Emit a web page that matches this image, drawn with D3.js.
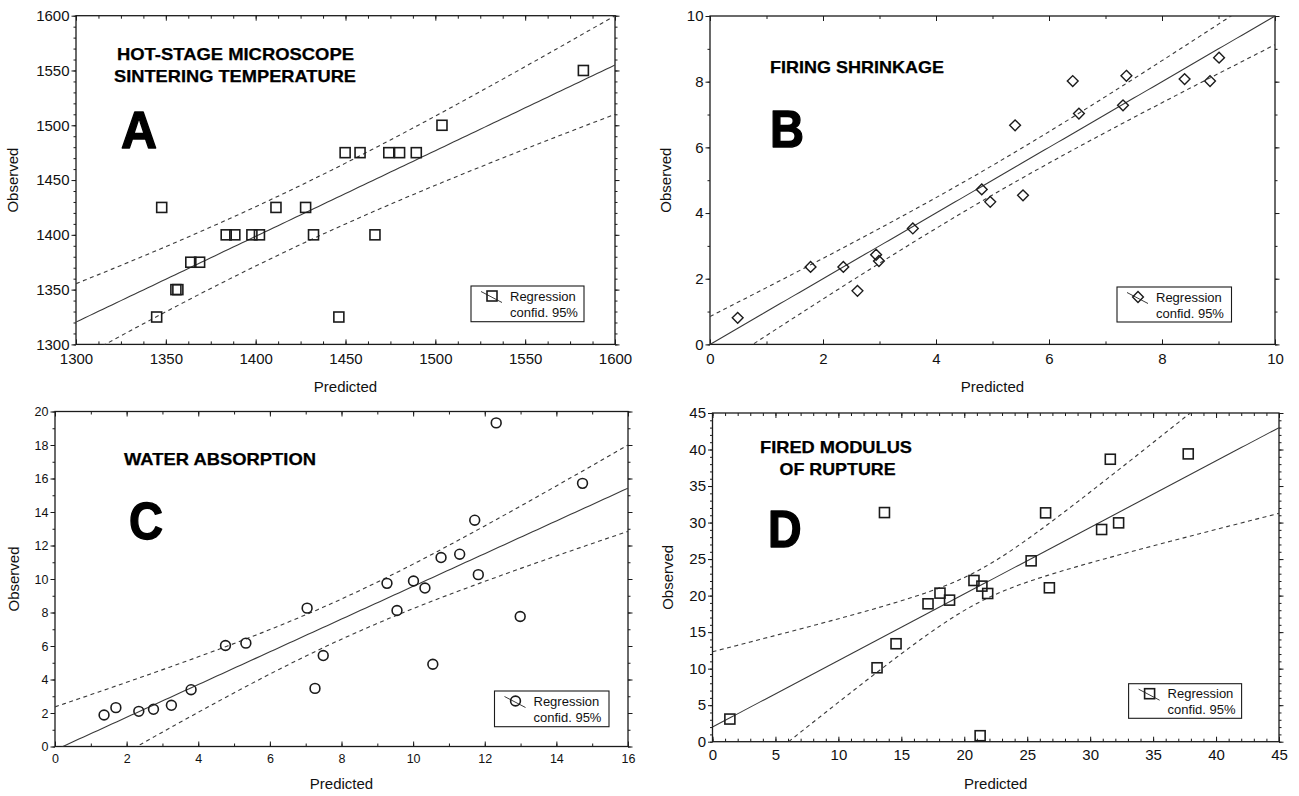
<!DOCTYPE html>
<html>
<head>
<meta charset="utf-8">
<script src="https://cdn.jsdelivr.net/npm/d3@7"></script>
<style>
  body { margin: 0; background: #fff; }
  svg { display: block; }
</style>
</head>
<body>
<svg id="chart" width="1299" height="796"></svg>
<script>
// ---------- Data: predicted vs observed, four properties ----------

// A: hot-stage microscope sintering temperature
const sinterPred = [1582.4, 1503.7, 1449.8, 1458.1, 1474.1, 1480.1, 1489.4, 1347.7, 1411.3, 1427.8,
                    1383.6, 1388.4, 1397.9, 1402.1, 1432.2, 1466.4, 1363.9, 1368.8, 1355.6, 1356.7,
                    1344.9, 1446.3];
const sinterObs  = [1550, 1500, 1475, 1475, 1475, 1475, 1475, 1425, 1425, 1425,
                    1400, 1400, 1400, 1400, 1400, 1400, 1375, 1375, 1350, 1350,
                    1325, 1325];
// regression of observed on predicted: [intercept, slope, band centre, band half-width at centre, band spread]
const sinterFit  = [303.8, 0.782, 1415, 26.9, 0.195];
const sinterTicks = [1300, 1350, 1400, 1450, 1500, 1550, 1600];

// B: firing shrinkage
const shrinkPred = [0.49, 1.78, 2.36, 2.61, 2.94, 2.99, 3.59, 4.81, 4.96, 5.40, 5.54, 6.42, 6.53, 7.31, 7.37, 8.40, 8.85, 9.01];
const shrinkObs  = [0.81, 2.36, 2.36, 1.63, 2.73, 2.54, 3.53, 4.72, 4.34, 6.67, 4.54, 8.02, 7.03, 7.28, 8.18, 8.08, 8.02, 8.73];
const shrinkFit  = [0, 1.0, 4.9, 0.45, 0.147];
const shrinkTicks = [0, 2, 4, 6, 8, 10];

// C: water absorption
const waterPred = [1.37, 1.70, 2.34, 2.75, 3.25, 3.80, 4.76, 5.33, 7.04, 7.26, 7.49, 9.27,
                   9.55, 10.01, 10.33, 10.55, 10.78, 11.30, 11.72, 11.82, 12.32, 12.99, 14.73];
const waterObs  = [1.88, 2.32, 2.10, 2.22, 2.46, 3.39, 6.03, 6.17, 8.26, 3.47, 5.43, 9.74,
                   8.12, 9.88, 9.46, 4.91, 11.28, 11.48, 13.51, 10.26, 19.32, 7.76, 15.71];
const waterFit  = [-0.21, 0.977, 8, 1.2, 0.285];
const waterXTicks = [0, 2, 4, 6, 8, 10, 12, 14, 16];
const waterYTicks = [0, 2, 4, 6, 8, 10, 12, 14, 16, 18, 20];

// D: fired modulus of rupture
const morPred = [1.38, 13.07, 13.66, 14.58, 17.12, 18.07, 18.83, 20.77, 21.40, 21.86, 21.26,
                 25.31, 26.46, 26.76, 30.91, 31.60, 32.26, 37.79];
const morObs  = [3.10, 10.12, 31.37, 13.41, 18.88, 20.34, 19.38, 22.07, 21.30, 20.29, 0.82,
                 24.76, 31.33, 21.07, 29.05, 38.67, 29.96, 39.40];
const morFit  = [2.0, 0.911, 21, 2.2, 0.48];
const morTicks = [0, 5, 10, 15, 20, 25, 30, 35, 40, 45];

// Text
const sinterTitle = ["HOT-STAGE MICROSCOPE", "SINTERING TEMPERATURE"];
const shrinkTitle = ["FIRING SHRINKAGE"];
const waterTitle  = ["WATER ABSORPTION"];
const morTitle    = ["FIRED MODULUS", "OF RUPTURE"];
const legendLines = ["Regression", "confid. 95%"];
const xAxisTitle = "Predicted";
const yAxisTitle = "Observed";

// ---------- Drawing ----------
const svg = d3.select("#chart");
const FONT = "Arial, 'Liberation Sans', Helvetica, sans-serif";
const NARROW = "'Liberation Sans Narrow', 'Arial Narrow', 'Liberation Sans', Arial, sans-serif";
const INK = "#1b1b1b";
const LINE = "#3a3a3a";

function steps(lo, hi, step) {
  const out = [];
  const n = Math.round((hi - lo) / step);
  for (let i = 0; i <= n; i++) out.push(lo + i * step);
  return out;
}

function marker(g, type, x, y) {
  if (type === "circle") {
    g.append("circle").attr("cx", x).attr("cy", y).attr("r", 4.9)
      .attr("fill", "none").attr("stroke", INK).attr("stroke-width", 1.6);
  } else if (type === "diamond") {
    const s = 5.4;
    g.append("path").attr("d", `M${x},${y - s}L${x + s},${y}L${x},${y + s}L${x - s},${y}Z`)
      .attr("fill", "none").attr("stroke", INK).attr("stroke-width", 1.4);
  } else {
    const s = 5;
    g.append("rect").attr("x", x - s).attr("y", y - s).attr("width", 2 * s).attr("height", 2 * s)
      .attr("fill", "none").attr("stroke", INK).attr("stroke-width", 1.6);
  }
}

function styleAxis(sel) {
  sel.select(".domain").remove();
  sel.selectAll(".tick line").attr("stroke", INK).attr("stroke-width", 1);
  sel.selectAll(".tick text").attr("fill", "#111");
}

function drawPanel(p) {
  const [left, right, top, bottom] = p.box;
  const x = d3.scaleLinear().domain(p.xDomain).range([left, right]);
  const y = d3.scaleLinear().domain(p.yDomain).range([bottom, top]);
  const g = svg.append("g").attr("font-family", FONT);

  const clipId = "clip" + p.id;
  svg.append("clipPath").attr("id", clipId)
    .append("rect").attr("x", left).attr("y", top).attr("width", right - left).attr("height", bottom - top);

  // minor ticks
  const xMinor = steps(p.xDomain[0], p.xDomain[1], p.xMinorStep);
  const yMinor = steps(p.yDomain[0], p.yDomain[1], p.yMinorStep);
  g.append("g").attr("transform", `translate(0,${bottom})`)
    .call(d3.axisBottom(x).tickValues(xMinor).tickSize(-3).tickFormat("")).call(styleAxis);
  g.append("g").attr("transform", `translate(0,${top})`)
    .call(d3.axisTop(x).tickValues(xMinor).tickSize(-3).tickFormat("")).call(styleAxis);
  g.append("g").attr("transform", `translate(${left},0)`)
    .call(d3.axisLeft(y).tickValues(yMinor).tickSize(2.5).tickFormat("")).call(styleAxis);
  g.append("g").attr("transform", `translate(${right},0)`)
    .call(d3.axisRight(y).tickValues(yMinor).tickSize(2.5).tickFormat("")).call(styleAxis);

  // major ticks + labels
  g.append("g").attr("transform", `translate(0,${bottom})`)
    .call(d3.axisBottom(x).tickValues(p.xTicks).tickSize(-5).tickPadding(p.xPad).tickFormat(d3.format("d")))
    .call(styleAxis)
    .call(s => s.selectAll("text").attr("font-size", p.tickFont));
  g.append("g").attr("transform", `translate(0,${top})`)
    .call(d3.axisTop(x).tickValues(p.xTicks).tickSize(-5).tickFormat("")).call(styleAxis);
  g.append("g").attr("transform", `translate(${left},0)`)
    .call(d3.axisLeft(y).tickValues(p.yTicks).tickSize(4.5).tickPadding(2).tickFormat(d3.format("d")))
    .call(styleAxis)
    .call(s => s.selectAll("text").attr("font-size", p.tickFont));
  g.append("g").attr("transform", `translate(${right},0)`)
    .call(d3.axisRight(y).tickValues(p.yTicks).tickSize(4.5).tickFormat("")).call(styleAxis);

  // frame
  g.append("rect").attr("x", left).attr("y", top).attr("width", right - left).attr("height", bottom - top)
    .attr("fill", "none").attr("stroke", INK).attr("stroke-width", 1.3);

  // regression line and 95% confidence band
  const [b0, b1, xc, hMin, spread] = p.fit;
  const fitY = v => b0 + b1 * v;
  const half = v => Math.sqrt(hMin * hMin + spread * spread * (v - xc) * (v - xc));
  const xs = steps(p.xDomain[0], p.xDomain[1], (p.xDomain[1] - p.xDomain[0]) / 120);
  const ln = d3.line().x(d => x(d[0])).y(d => y(d[1]));
  const lines = g.append("g").attr("clip-path", `url(#${clipId})`).attr("fill", "none");
  lines.append("path").attr("d", ln(xs.map(v => [v, fitY(v)])))
    .attr("stroke", LINE).attr("stroke-width", 1.1);
  [1, -1].forEach(sgn => {
    lines.append("path").attr("d", ln(xs.map(v => [v, fitY(v) + sgn * half(v)])))
      .attr("stroke", LINE).attr("stroke-width", 1.1).attr("stroke-dasharray", "4,3.5");
  });

  // observations
  const pts = g.append("g");
  p.pred.forEach((v, i) => marker(pts, p.marker, x(v), y(p.obs[i])));

  // panel title and letter
  p.title.forEach((t, i) => {
    const L = p.titleLayout[i];
    g.append("text").text(t)
      .attr("x", L[0]).attr("y", L[2])
      .attr("textLength", L[1] - L[0]).attr("lengthAdjust", "spacingAndGlyphs")
      .attr("font-family", NARROW).attr("font-weight", "bold").attr("font-size", 17)
      .attr("fill", "#000").attr("stroke", "#000").attr("stroke-width", 0.25);
  });
  const Lt = p.letterLayout;
  g.append("text").text(p.id)
    .attr("x", Lt[0]).attr("y", Lt[2])
    .attr("textLength", Lt[1] - Lt[0]).attr("lengthAdjust", "spacingAndGlyphs")
    .attr("font-family", NARROW).attr("font-weight", "bold").attr("font-size", Lt[3])
    .attr("fill", "#000").attr("stroke", "#000").attr("stroke-width", 1.4).attr("stroke-linejoin", "round");

  // legend
  const [lx0, lx1, ly0, ly1] = p.legend;
  const lg = g.append("g");
  lg.append("rect").attr("x", lx0).attr("y", ly0).attr("width", lx1 - lx0).attr("height", ly1 - ly0)
    .attr("fill", "#fff").attr("stroke", INK).attr("stroke-width", 1.1);
  lg.append("line").attr("x1", lx0 + 10).attr("y1", ly0 + 5.5).attr("x2", lx0 + 31).attr("y2", ly0 + 16.5)
    .attr("stroke", LINE).attr("stroke-width", 1);
  marker(lg, p.marker, lx0 + 21, ly0 + 10);
  legendLines.forEach((t, i) => {
    lg.append("text").text(t).attr("x", lx0 + 39).attr("y", ly0 + 14.5 + i * 16)
      .attr("font-size", 13).attr("fill", "#111");
  });

  // axis titles
  g.append("text").text(xAxisTitle)
    .attr("x", (left + right) / 2).attr("y", p.xTitleY)
    .attr("text-anchor", "middle").attr("font-size", 15).attr("fill", "#111");
  g.append("text").text(yAxisTitle)
    .attr("transform", `translate(${p.yTitleX},${(top + bottom) / 2}) rotate(-90)`)
    .attr("text-anchor", "middle").attr("font-size", 15).attr("fill", "#111");
}

const panels = [
  { id: "A", box: [76, 615, 15.7, 344.4], xDomain: [1300, 1600], yDomain: [1300, 1600],
    xTicks: sinterTicks, yTicks: sinterTicks, xMinorStep: 12.5, yMinorStep: 10,
    pred: sinterPred, obs: sinterObs, fit: sinterFit, marker: "square", tickFont: 15, xPad: 9,
    title: sinterTitle, titleLayout: [[117, 354, 60], [114, 356, 81.7]],
    letterLayout: [121, 157, 148.4, 52],
    legend: [471, 584, 286, 321.7], xTitleY: 392, yTitleX: 18 },
  { id: "B", box: [710, 1275, 16, 344.4], xDomain: [0, 10], yDomain: [0, 10],
    xTicks: shrinkTicks, yTicks: shrinkTicks, xMinorStep: 1, yMinorStep: 1,
    pred: shrinkPred, obs: shrinkObs, fit: shrinkFit, marker: "diamond", tickFont: 15, xPad: 9,
    title: shrinkTitle, titleLayout: [[770, 944, 73.3]],
    letterLayout: [770, 804, 147.3, 52],
    legend: [1117, 1231.5, 287, 322], xTitleY: 392, yTitleX: 671 },
  { id: "C", box: [55, 628, 411.5, 746.5], xDomain: [0, 16], yDomain: [0, 20],
    xTicks: waterXTicks, yTicks: waterYTicks, xMinorStep: 1, yMinorStep: 1,
    pred: waterPred, obs: waterObs, fit: waterFit, marker: "circle", tickFont: 12.5, xPad: 8,
    title: waterTitle, titleLayout: [[124, 316, 465.3]],
    letterLayout: [129, 163, 538.5, 52],
    legend: [494.5, 609, 691, 726.7], xTitleY: 789, yTitleX: 19 },
  { id: "D", box: [712.5, 1279, 413, 741.7], xDomain: [0, 45], yDomain: [0, 45],
    xTicks: morTicks, yTicks: morTicks, xMinorStep: 1, yMinorStep: 1,
    pred: morPred, obs: morObs, fit: morFit, marker: "square", tickFont: 15, xPad: 8,
    title: morTitle, titleLayout: [[760, 912, 453.3], [779.5, 895.6, 475]],
    letterLayout: [768, 801.6, 546.7, 51],
    legend: [1128.6, 1241.6, 683.7, 718.3], xTitleY: 789, yTitleX: 673 }
];

panels.forEach(drawPanel);
</script>
</body>
</html>
